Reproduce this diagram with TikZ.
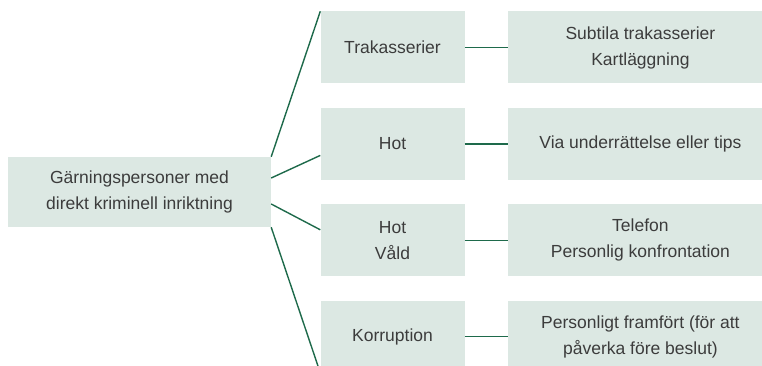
\documentclass[tikz,border=0pt]{standalone}
\usepackage{fontspec}
\setmainfont{Liberation Sans}
\usetikzlibrary{positioning, calc}
\definecolor{boxfill}{RGB}{220,232,227}
\definecolor{linkgreen}{RGB}{30,106,75}
\definecolor{textgray}{RGB}{60,60,60}

\begin{document}
\begin{tikzpicture}[x=1pt, y=-1pt, node distance=24pt and 43pt,
    box/.style={fill=boxfill, text=textgray, align=center, inner sep=0pt, minimum height=72pt, font=\fontsize{17.5}{26}\selectfont},
    midbox/.style={box, minimum width=144pt},
    sidebox/.style={box, minimum width=265pt},
    link/.style={draw=linkgreen, line width=1.4pt}]
    \useasboundingbox (0,0) rectangle (762,366);
    % Nodes
    \node[box, minimum width=263pt, minimum height=70pt] (root) at (139.5,192) {Gärningspersoner med\\direkt kriminell inriktning};
    \node[midbox] (trak) at (392.5,47.5) {Trakasserier};
    \node[midbox, below=of trak] (hot) {Hot};
    \node[midbox, below=of hot] (vald) {Hot\\Våld};
    \node[midbox, below=of vald] (korr) {Korruption};
    \node[sidebox, right=of trak] (subtil) {Subtila trakasserier\\Kartläggning};
    \node[sidebox, right=of hot] (tips) {Via underrättelse eller tips};
    \node[sidebox, right=of vald] (telefon) {Telefon\\Personlig konfrontation};
    \node[sidebox, right=of korr] (framfort) {Personligt framfört (för att\\påverka före beslut)};

    % Lines
    \draw[link] (root.north east) -- (trak.north west);
    \draw[link] ($(root.east)+(0,-14)$) -- ($(hot.west)+(0,11.5)$);
    \draw[link] ($(root.east)+(0,12)$) -- ($(vald.west)+(0,-10.5)$);
    \draw[link] (root.south east) -- (korr.south west);
    \draw[link] (trak) -- (subtil);
    \draw[link] (hot) -- (tips);
    \draw[link] (vald) -- (telefon);
    \draw[link] (korr) -- (framfort);
\end{tikzpicture}
\end{document}
